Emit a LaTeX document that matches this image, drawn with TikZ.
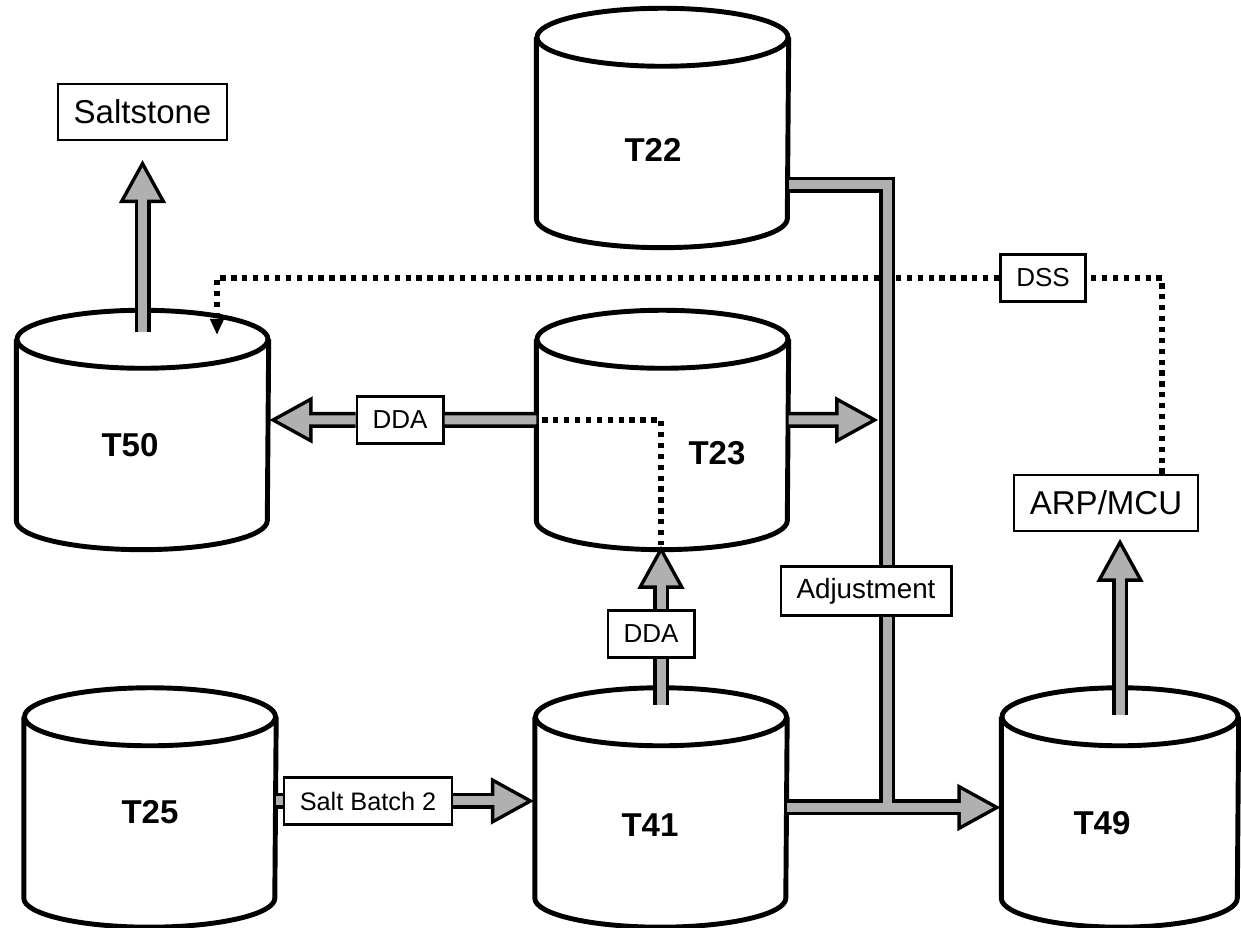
\documentclass[tikz,border=0pt]{standalone}
\usepackage{fontspec}
\setmainfont{Liberation Sans}
\usetikzlibrary{arrows.meta}

\tikzset{
    tank/.style={rectangle, minimum width=2.51cm, minimum height=1.8cm, inner sep=0pt},
    tanklabel/.style={font=\fontsize{9.4}{11}\selectfont\bfseries},
    tankline/.style={line width=1.4pt},
    tag/.style={draw, fill=white, line width=0.7pt, inner xsep=4.5pt, inner ysep=0pt,
        minimum height=0.47cm, font=\fontsize{7.4}{9}\selectfont},
    bigtag/.style={tag, minimum height=0.56cm, font=\fontsize{9.4}{11}\selectfont},
    pipeedge/.style={draw=black, line width=0.16cm},
    pipecore/.style={draw=gray!62, line width=0.09cm},
    pipe/.style={pipecore, preaction={pipeedge}},
    fatarrow/.style={pipecore, -{Triangle[length=0.33cm,width=0.33cm]}, shorten >=0.075cm,
        preaction={pipeedge, -{Triangle[length=0.44cm,width=0.44cm]}, shorten >=0pt}},
    dotline/.style={line width=1.5pt, dash pattern=on 1.5pt off 1.6pt},
}

\begin{document}
\begin{tikzpicture}
    \useasboundingbox (0,0) rectangle (12.41,9.28);

    % tanks
    \node[tank, label={[tanklabel, xshift=-0.95mm, yshift=-2.2mm]center:T22}] (T22) at (6.625,8.00) {};
    \node[tank, label={[tanklabel, xshift=-1.25mm, yshift=-1.5mm]center:T50}] (T50) at (1.425,4.98) {};
    \node[tank, label={[tanklabel, xshift=5.45mm, yshift=-2.3mm]center:T23}] (T23) at (6.625,4.98) {};
    \node[tank, label={[tanklabel, yshift=-0.5mm]center:T25}] (T25) at (1.50,1.205) {};
    \node[tank, label={[tanklabel, xshift=-1.1mm, yshift=-1.75mm]center:T41}] (T41) at (6.61,1.205) {};
    \node[tank, minimum width=2.36cm, label={[tanklabel, xshift=-1.8mm, yshift=-1.55mm]center:T49}] (T49) at (11.20,1.205) {};
    \foreach \t/\r in {T22/1.255, T50/1.255, T23/1.255, T25/1.255, T41/1.255, T49/1.18}
        \draw[tankline] (\t.north west) -- (\t.south west)
            arc[start angle=180, end angle=360, x radius=\r, y radius=0.29]
            -- (\t.north east) (\t.north) ellipse[x radius=\r, y radius=0.29];

    % labels on the lines
    \node[bigtag] (salt) at (1.425,8.16) {Saltstone};
    \node[tag] (dda1) at (4.00,5.08) {DDA};
    \node[tag] (dda2) at (6.51,2.94) {DDA};
    \node[tag] (dss) at (10.43,6.50) {DSS};
    \node[tag, minimum height=0.49cm, font=\fontsize{7.9}{10}\selectfont] (adj) at (8.66,3.37) {Adjustment};
    \node[bigtag] (arp) at (11.06,4.25) {ARP/MCU};
    \node[tag, font=\fontsize{7.2}{9}\selectfont] (batch) at (3.68,1.27) {Salt Batch 2};

    \coordinate (bend) at (8.87,7.43);
    \coordinate (join) at (8.87,1.205);
    \coordinate (pipeleft) at (8.79,5.08);
    \coordinate (T23low) at (6.61,3.83);
    \coordinate (arpin) at (11.20,3.90);
    \coordinate (dssturn) at (11.62,6.50);
    \coordinate (dssdrop) at (2.17,6.50);
    \coordinate (T50drop) at (2.17,5.93);

    % dotted lines
    \draw[dotline] ([xshift=0.6mm,yshift=1mm]T23.west) -| (T23low);
    \draw[dotline] (arp.north -| dssturn) -- (dssturn) -- (dss.east);
    \draw[dotline, -{Triangle[length=0.16cm,width=0.13cm]}] (dss.west) -- (dssdrop) -- (T50drop);

    % transfers
    \draw[fatarrow] ([yshift=0.7mm]T50.north) -- ([yshift=-1.8mm]salt.south);
    \draw[pipe] ([yshift=1mm]T23.west) -- (dda1.east);
    \draw[fatarrow] (dda1.west) -- ([yshift=1mm]T50.east);
    \draw[fatarrow] ([yshift=1mm]T23.east) -- (pipeleft);
    \draw[pipe] ([yshift=1.2mm]T41.north) -- (T41.north |- dda2.south);
    \draw[fatarrow] (T41.north |- dda2.north) -- (T23low);
    \draw[pipe] (T25.east |- batch.west) -- (batch.west);
    \draw[fatarrow] (batch.east) -- (T41.west |- batch.east);
    \draw[fatarrow] ([yshift=0.2mm]T49.north) -- (arpin);

    \draw[pipeedge] (T22.east |- bend) -- (bend) -- (adj.north -| bend);
    \draw[pipeedge] (adj.south -| bend) -- (join);
    \draw[fatarrow] (T41.east) -- (T49.west);
    \draw[pipecore] (T22.east |- bend) -- (bend) -- (adj.north -| bend);
    \draw[pipecore] (adj.south -| bend) -- (join);
\end{tikzpicture}
\end{document}
